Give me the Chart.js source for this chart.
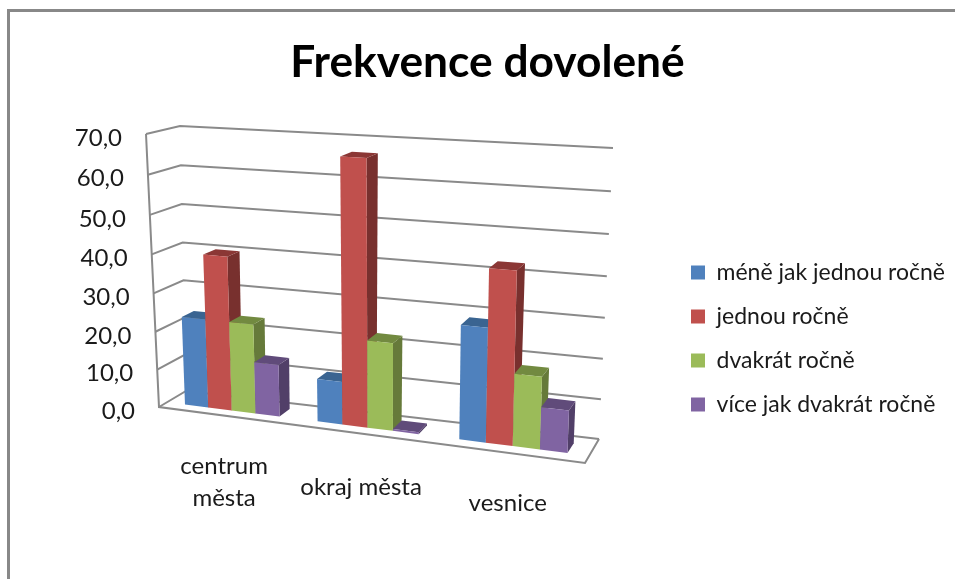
<!DOCTYPE html>
<html>
<head>
<meta charset="utf-8">
<script src="https://cdn.jsdelivr.net/npm/chart.js@4"></script>
<style>
  html, body { margin: 0; background: #fff; }
  #wrap { position: relative; width: 955px; height: 579px; overflow: hidden; }
  #frame { position: absolute; left: 7px; top: 9px; width: 960px; height: 600px; border-left: 3px solid #888; border-top: 3px solid #888; }
  canvas { position: absolute; left: 0; top: 0; }
</style>
</head>
<body>
<div id="wrap">
  <div id="frame"></div>
  <canvas id="chart" width="955" height="579"></canvas>
</div>
<script>
const categories = [['centrum', 'města'], 'okraj města', 'vesnice'];
const seriesNames = ['méně jak jednou ročně', 'jednou ročně', 'dvakrát ročně', 'více jak dvakrát ročně'];
const lessThanOnce = [23.3, 11, 28.5];
const once = [40, 66.7, 42.8];
const twice = [23.3, 22.3, 18];
const moreThanTwice = [13.5, 0.5, 10.5];
const tickMax = 70;
const tickStep = 10;

const faceColors = ['#4f81bd', '#c0504d', '#9bbb59', '#8064a2'];
const topColors = ['#3a6491', '#8b3735', '#728a40', '#604b7a'];
const sideColors = ['#2f527a', '#78302e', '#667a3a', '#513f68'];
const gridColor = '#8a8a8a';
const textFont = 'Lato, sans-serif';

// corners of the 3D box on screen: floor left, floor right, top right, top left
const frontQuad = [[159, 407], [585, 463], [595, 162], [146, 134]];
const backQuad = [[186, 391], [599, 439], [613, 148], [180, 126]];
const barDepth = [0.3, 0.72];
const categoryLabelDrop = [51, 54, 50];

function quadMap(q) {
  const [[x0, y0], [x1, y1], [x2, y2], [x3, y3]] = q;
  const dx1 = x1 - x2, dx2 = x3 - x2, sx = x0 - x1 + x2 - x3;
  const dy1 = y1 - y2, dy2 = y3 - y2, sy = y0 - y1 + y2 - y3;
  const den = dx1 * dy2 - dx2 * dy1;
  const g = (sx * dy2 - dx2 * sy) / den;
  const h = (dx1 * sy - sx * dy1) / den;
  const a = x1 - x0 + g * x1, b = x3 - x0 + h * x3;
  const d = y1 - y0 + g * y1, e = y3 - y0 + h * y3;
  return (u, v) => {
    const w = g * u + h * v + 1;
    return [(a * u + b * v + x0) / w, (d * u + e * v + y0) / w];
  };
}
const front = quadMap(frontQuad);
const back = quadMap(backQuad);

function project(u, v, depth) {
  const f = front(u, v), b = back(u, v);
  return [f[0] + (b[0] - f[0]) * depth, f[1] + (b[1] - f[1]) * depth];
}

function poly(ctx, pts, fill) {
  ctx.beginPath();
  pts.forEach((p, i) => i ? ctx.lineTo(p[0], p[1]) : ctx.moveTo(p[0], p[1]));
  ctx.closePath();
  ctx.fillStyle = fill;
  ctx.fill();
}

function line(ctx, pts) {
  ctx.beginPath();
  pts.forEach((p, i) => i ? ctx.lineTo(p[0], p[1]) : ctx.moveTo(p[0], p[1]));
  ctx.stroke();
}

// the bars stay in Chart.js, this only projects them into the perspective box
const perspective = {
  id: 'perspective',
  beforeDatasetsDraw(chart) {
    const { ctx, chartArea: area, scales } = chart;
    const yScale = scales.y;
    const toV = px => (area.bottom - px) / area.height;
    const toU = px => (px - area.left) / area.width;

    ctx.save();
    ctx.strokeStyle = gridColor;
    ctx.lineWidth = 2;
    ctx.font = '24px ' + textFont;
    ctx.fillStyle = '#1a1a1a';
    yScale.ticks.forEach(tick => {
      const v = toV(yScale.getPixelForValue(tick.value));
      const start = project(0, v, 0);
      line(ctx, [start, project(0, v, 1), project(1, v, 1)]);
      ctx.textAlign = 'right';
      ctx.textBaseline = 'middle';
      ctx.fillText(tick.label, start[0] - 24, start[1] + 4);
    });
    line(ctx, [project(0, 1, 0), project(0, 0, 0), project(1, 0, 0), project(1, 0, 1)]);

    categories.forEach((cat, i) => {
      const groupBars = chart.data.datasets.map((ds, k) => chart.getDatasetMeta(k).data[i]);
      groupBars.forEach((bar, k) => {
        const l = toU(bar.x - bar.width / 2), r = toU(bar.x + bar.width / 2);
        const t = toV(bar.y), b = toV(bar.base);
        const [d0, d1] = barDepth;
        poly(ctx, [project(r, b, d0), project(r, b, d1), project(r, t, d1), project(r, t, d0)], sideColors[k]);
        poly(ctx, [project(l, t, d0), project(r, t, d0), project(r, t, d1), project(l, t, d1)], topColors[k]);
        poly(ctx, [project(l, b, d0), project(r, b, d0), project(r, t, d0), project(l, t, d0)], faceColors[k]);
      });

      const center = toU(scales.x.getPixelForValue(i));
      const anchor = project(center, 0, 0);
      const lines = Array.isArray(cat) ? cat : [cat];
      ctx.fillStyle = '#1a1a1a';
      ctx.textAlign = 'center';
      ctx.textBaseline = 'middle';
      lines.forEach((txt, n) => ctx.fillText(txt, anchor[0], anchor[1] + categoryLabelDrop[i] + n * 32));
    });
    ctx.restore();
    return false;
  }
};

const values = [lessThanOnce, once, twice, moreThanTwice];

new Chart(document.getElementById('chart'), {
  type: 'bar',
  data: {
    labels: categories,
    datasets: seriesNames.map((name, k) => ({
      label: name,
      data: values[k],
      backgroundColor: faceColors[k],
      barPercentage: 1,
      categoryPercentage: 0.72
    }))
  },
  options: {
    responsive: false,
    animation: false,
    layout: { padding: { left: 20, right: 0, bottom: 142 } },
    plugins: {
      title: {
        display: true,
        text: 'Frekvence dovolené',
        color: '#000',
        font: { family: textFont, size: 44.3, weight: 'bold' },
        padding: { top: 36, bottom: 20 }
      },
      legend: {
        position: 'right',
        align: 'end',
        maxWidth: 290,
        labels: {
          boxWidth: 14,
          boxHeight: 14,
          padding: 21,
          color: '#1a1a1a',
          font: { family: textFont, size: 23 }
        }
      },
      tooltip: { enabled: false }
    },
    scales: {
      y: {
        min: 0,
        max: tickMax,
        grid: { display: false },
        border: { display: false },
        ticks: {
          display: false,
          stepSize: tickStep,
          callback: v => v.toFixed(1).replace('.', ',')
        },
        afterFit(scale) { scale.width = 130; }
      },
      x: {
        grid: { display: false },
        border: { display: false },
        ticks: { display: false },
        afterFit(scale) { scale.height = 27; }
      }
    }
  },
  plugins: [perspective]
});
</script>
</body>
</html>
